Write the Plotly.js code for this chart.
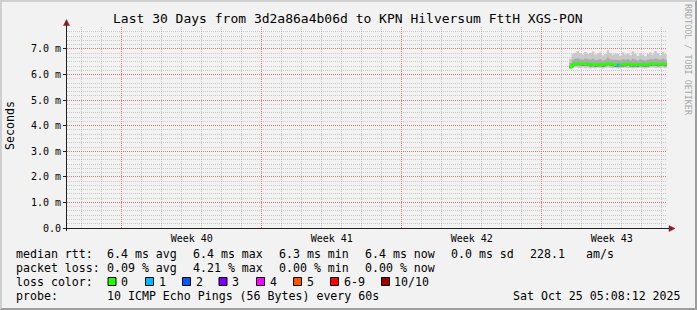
<!DOCTYPE html>
<html><head><meta charset="utf-8">
<script src="https://cdn.plot.ly/plotly-3.0.1.min.js"></script>
<style>
html,body{margin:0;padding:0;background:#f2f2f2;}
#wrap{position:relative;width:697px;height:310px;overflow:hidden;}
#chart{width:697px;height:310px;}
#frame{position:absolute;left:0;top:0;width:697px;height:310px;box-sizing:border-box;border-top:2px solid #cfcfcf;border-left:2px solid #cfcfcf;border-right:2px solid #9e9e9e;border-bottom:2px solid #9e9e9e;pointer-events:none;}
</style>
</head><body><div id="wrap"><div id="chart"></div><div id="frame"></div></div>
<script>
// ---------------- data ----------------
const chartTitle = 'Last 30 Days from 3d2a86a4b06d to KPN Hilversum FttH XGS-PON';
const yTitle = 'Seconds';
const watermark = 'RRDTOOL / TOBI OETIKER';
const rangeStart = '2025-09-25 06:20:00';
const rangeEnd = '2025-10-25 06:20:00';
const weekStarts = ['2025-09-28', '2025-10-05', '2025-10-12', '2025-10-19'];
const weekLabels = ['Week 40', 'Week 41', 'Week 42', 'Week 43'];
const yTickVals = [0, 1, 2, 3, 4, 5, 6, 7];
const yTickText = ['0.0', '1.0 m', '2.0 m', '3.0 m', '4.0 m', '5.0 m', '6.0 m', '7.0 m'];

const firstSample = '2025-10-20 09:00:00';
const stepHours = 3;
const medianMs = [6.30,6.38,6.42,6.43,6.42,6.41,6.42,6.41,6.39,6.40,
                  6.38,6.39,6.40,6.37,6.40,6.43,6.41,6.40,6.38,6.38,
                  6.39,6.39,6.40,6.41,6.39,6.38,6.39,6.38,6.40,6.39,
                  6.38,6.39,6.41,6.42,6.41,6.40,6.41,6.42,6.40,6.39];
const lossCount = [0,0,0,0,0,0,0,0,0,0,
                   0,0,0,0,0,0,0,0,0,1,
                   0,0,0,0,0,0,0,0,0,0,
                   0,0,0,0,0,0,0,0,0,0];
const pingMaxMs = [6.62,6.80,6.85,6.92,6.82,6.78,6.88,6.80,6.84,6.90,
                   6.78,6.82,6.86,6.76,6.80,6.95,6.84,6.78,6.82,6.80,
                   6.74,6.86,6.78,6.82,6.76,6.90,6.80,6.74,6.84,6.78,
                   6.72,6.80,6.86,6.78,6.92,6.82,6.76,6.88,6.80,6.84];
const pingP75Ms = [6.45,6.58,6.62,6.64,6.60,6.58,6.63,6.60,6.58,6.62,
                   6.56,6.58,6.61,6.55,6.58,6.66,6.60,6.57,6.58,6.57,
                   6.56,6.60,6.58,6.60,6.56,6.62,6.58,6.55,6.60,6.57,
                   6.55,6.58,6.61,6.60,6.63,6.60,6.58,6.62,6.59,6.58];
const pingP25Ms = [6.26,6.32,6.35,6.36,6.35,6.34,6.35,6.34,6.32,6.33,
                   6.31,6.32,6.33,6.30,6.33,6.36,6.34,6.33,6.31,6.31,
                   6.32,6.32,6.33,6.34,6.32,6.31,6.32,6.31,6.33,6.32,
                   6.31,6.32,6.34,6.35,6.34,6.33,6.34,6.35,6.33,6.32];
const pingMinMs = [6.20,6.26,6.28,6.27,6.26,6.28,6.25,6.27,6.24,6.26,
                   6.25,6.27,6.26,6.24,6.27,6.28,6.26,6.25,6.26,6.24,
                   6.25,6.26,6.27,6.25,6.26,6.24,6.25,6.26,6.27,6.25,
                   6.24,6.26,6.27,6.28,6.26,6.27,6.25,6.27,6.26,6.25];

const lossLabels = ['0', '1', '2', '3', '4', '5', '6-9', '10/10'];
const lossColors = ['#26ff00', '#00b8ff', '#0059ff', '#7e00ff', '#ff00ff', '#ff5500', '#ff0000', '#a00000'];

const rttLabel = 'median rtt:';
const rttStats = ['6.4 ms avg', '6.4 ms max', '6.3 ms min', '6.4 ms now', '0.0 ms sd', '228.1', 'am/s'];
const lossLabel = 'packet loss:';
const lossStats = ['0.09 % avg', '4.21 % max', '0.00 % min', '0.00 % now'];
const lossColorLabel = 'loss color:';
const probeLabel = 'probe:';
const probeText = '10 ICMP Echo Pings (56 Bytes) every 60s';
const dateText = 'Sat Oct 25 05:08:12 2025';

// ---------------- helpers ----------------
const MONO = 'DejaVu Sans Mono, monospace';
function addHours(s, h) {
  const d = new Date(s.replace(' ', 'T') + 'Z');
  d.setTime(d.getTime() + h * 3600e3);
  return d.toISOString().slice(0, 19).replace('T', ' ');
}
const nb = s => s.replace(/ /g, '\u00a0');
// pixel -> paper (plot area: x 67..667, y 27..228)
const PL = 67, PW = 600, PB = 228, PH = 201;
const X = px => (px - PL) / PW;
const Y = py => (PB - py) / PH;

const times = medianMs.map((_, i) => addHours(firstSample, i * stepHours));
const weekMid = weekStarts.map(w => addHours(w + ' 00:00:00', 84));
function lossBucket(n) { return n >= 10 ? 7 : (n >= 6 ? 6 : n); }

// ---------------- traces ----------------
const base = {type: 'scatter', mode: 'lines', x: times, hoverinfo: 'skip', showlegend: false};
const traces = [
  Object.assign({}, base, {y: pingMinMs, line: {width: 0, shape: 'hv'}}),
  Object.assign({}, base, {y: pingMaxMs, line: {width: 0, shape: 'hv'}, fill: 'tonexty', fillcolor: '#c9c9c9'}),
  Object.assign({}, base, {y: pingP25Ms, line: {width: 0, shape: 'hv'}}),
  Object.assign({}, base, {y: pingP75Ms, line: {width: 0, shape: 'hv'}, fill: 'tonexty', fillcolor: '#ababab'}),
  Object.assign({}, base, {y: pingP25Ms, line: {width: 0, shape: 'hv'}}),
  Object.assign({}, base, {y: medianMs, line: {width: 0, shape: 'hv'}, fill: 'tonexty', fillcolor: '#7c7c7c'}),
  Object.assign({}, base, {y: medianMs, line: {width: 2.5, shape: 'hv', color: lossColors[0]}})
];
for (let b = 1; b < lossColors.length; b++) {
  const ys = medianMs.map((v, i) => {
    const here = lossBucket(lossCount[i]) === b;
    const prev = i > 0 && lossBucket(lossCount[i - 1]) === b;
    return (here || prev) ? (here ? v : medianMs[i - 1]) : null;
  });
  if (ys.some(v => v !== null)) {
    traces.push(Object.assign({}, base, {y: ys, line: {width: 2.5, shape: 'hv', color: lossColors[b]}}));
  }
}
// carriers for the overlay axes (week labels, weekly grid)
traces.push({type: 'scatter', mode: 'markers', x: weekMid, y: weekMid.map(() => null), xaxis: 'x2', yaxis: 'y', hoverinfo: 'skip', showlegend: false});
traces.push({type: 'scatter', mode: 'markers', x: weekStarts, y: weekStarts.map(() => null), xaxis: 'x3', yaxis: 'y', hoverinfo: 'skip', showlegend: false});

// ---------------- annotations ----------------
const ann = [];
function txt(px, py, text, opts) {
  ann.push(Object.assign({xref: 'paper', yref: 'paper', x: X(px), y: Y(py), text: nb(text), showarrow: false,
    xanchor: 'left', yanchor: 'middle', borderpad: 0, borderwidth: 0,
    font: {family: MONO, size: 11.6, color: '#000'}}, opts || {}));
}
txt(347.5, 18, chartTitle, {xanchor: 'center', font: {family: MONO, size: 13, color: '#000'}});
txt(10, 126, yTitle, {xanchor: 'center', textangle: -90});
txt(688, 60, watermark, {xanchor: 'center', textangle: 90, font: {family: MONO, size: 8.4, color: '#a8a8a8'}});

const statCols = [106.5, 192.5, 278.5, 364.5, 450.5, 529.5, 585.5];
const rowY = [253.5, 268.3, 281.8, 296];
txt(15.5, rowY[0], rttLabel);
rttStats.forEach((s, i) => txt(statCols[i], rowY[0], s));
txt(15.5, rowY[1], lossLabel);
lossStats.forEach((s, i) => txt(statCols[i], rowY[1], s));
txt(15.5, rowY[2], lossColorLabel);
txt(15.5, rowY[3], probeLabel);
txt(statCols[0], rowY[3], probeText);
txt(680.5, rowY[3], dateText, {xanchor: 'right'});

// ---------------- shapes ----------------
const shapes = [];
const boxLeft = [108, 145.5, 182.5, 219, 256.5, 293.5, 330.5, 381.5];
lossLabels.forEach((l, i) => {
  shapes.push({type: 'rect', xref: 'paper', yref: 'paper', x0: X(boxLeft[i]), x1: X(boxLeft[i] + 8), y0: Y(285.5), y1: Y(277.5),
    fillcolor: lossColors[i], line: {color: '#000', width: 1}});
  txt(boxLeft[i] + 13, rowY[2], l);
});
// axes lines & arrows
shapes.push({type: 'line', xref: 'paper', yref: 'paper', x0: X(66.5), x1: X(66.5), y0: Y(231), y1: Y(24), line: {color: '#212121', width: 1}});
shapes.push({type: 'line', xref: 'paper', yref: 'paper', x0: X(63), x1: X(670), y0: Y(228.5), y1: Y(228.5), line: {color: '#212121', width: 1}});
shapes.push({type: 'path', xref: 'paper', yref: 'paper', path: `M ${X(63.5)} ${Y(25.5)} L ${X(69.5)} ${Y(25.5)} L ${X(66.5)} ${Y(19.5)} Z`,
  fillcolor: '#802020', line: {color: '#802020', width: 0.5}});
shapes.push({type: 'path', xref: 'paper', yref: 'paper', path: `M ${X(669)} ${Y(225.5)} L ${X(669)} ${Y(231.5)} L ${X(675)} ${Y(228.5)} Z`,
  fillcolor: '#802020', line: {color: '#802020', width: 0.5}});

// ---------------- layout ----------------
const gridMinor = 'rgba(140,140,140,0.4)';
const gridMajor = 'rgba(240,100,100,0.8)';
const layout = {
  width: 697, height: 310,
  margin: {l: PL, r: 697 - PL - PW, t: PB - PH, b: 310 - PB},
  paper_bgcolor: '#f2f2f2', plot_bgcolor: '#f2f2f2',
  showlegend: false,
  xaxis: {
    type: 'date', range: [rangeStart, rangeEnd], fixedrange: true,
    tickmode: 'linear', tick0: weekStarts[0], dtick: 86400000,
    showgrid: true, gridcolor: gridMinor, griddash: '1px,1px', gridwidth: 1,
    showticklabels: false, ticks: '', zeroline: false, showline: false
  },
  xaxis2: {
    type: 'date', overlaying: 'x', anchor: 'y', range: [rangeStart, rangeEnd], fixedrange: true,
    tickmode: 'array', tickvals: weekMid, ticktext: weekLabels,
    showgrid: false, ticks: '', zeroline: false, showline: false, ticklabelstandoff: 3,
    tickfont: {family: MONO, size: 10, color: '#000'}
  },
  xaxis3: {
    type: 'date', overlaying: 'x', anchor: 'y', range: [rangeStart, rangeEnd], fixedrange: true,
    tickmode: 'linear', tick0: weekStarts[0], dtick: 7 * 86400000,
    showgrid: true, gridcolor: gridMajor, griddash: '1px,1px', gridwidth: 1,
    showticklabels: false, ticks: '', zeroline: false, showline: false
  },
  yaxis: {
    range: [0, 7.86], fixedrange: true,
    tickmode: 'array', tickvals: yTickVals, ticktext: yTickText,
    showgrid: true, gridcolor: gridMajor, griddash: '1px,1px', gridwidth: 1,
    minor: {tickmode: 'linear', tick0: 0, dtick: 1 / 6, showgrid: true, gridcolor: gridMinor, griddash: '1px,1px', ticks: ''},
    ticks: 'outside', ticklen: 3, tickcolor: '#212121', zeroline: false, showline: false,
    tickfont: {family: MONO, size: 10, color: '#000'}
  },
  shapes: shapes,
  annotations: ann
};
Plotly.newPlot('chart', traces, layout, {staticPlot: true, displayModeBar: false});
</script>
</body></html>
